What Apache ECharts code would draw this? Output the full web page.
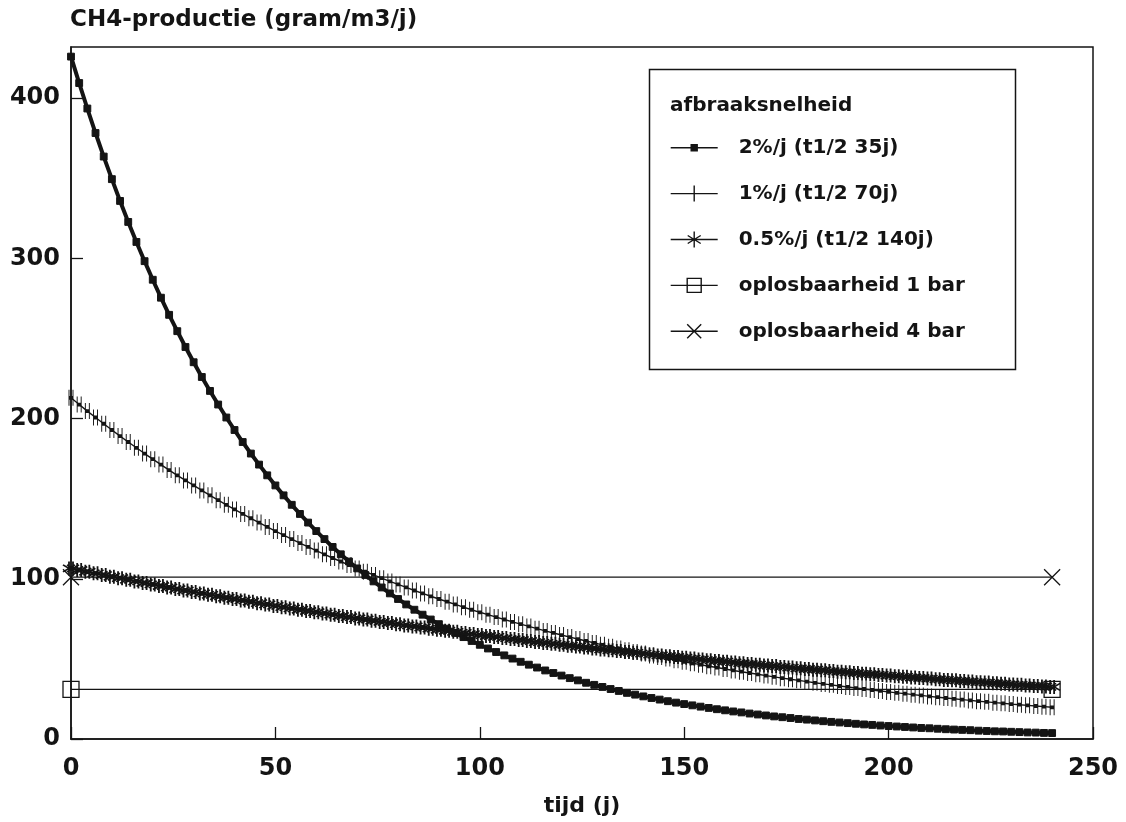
<!DOCTYPE html>
<html lang="nl">
<head>
    <meta charset="UTF-8">
    <title>CH4-productie</title>
    <style>
        html, body { margin: 0; padding: 0; background: #fff; }
    </style>
</head>
<body>
<div id="chart-box" style="width:1126px;height:822px"></div>
<script src="https://cdn.jsdelivr.net/npm/echarts@6/dist/echarts.min.js"></script>
<script>
var tijd = [0,2,4,6,8,10,12,14,16,18,20,22,24,26,28,30,32,34,36,38,40,42,44,46,48,50,52,54,56,58,
    60,62,64,66,68,70,72,74,76,78,80,82,84,86,88,90,92,94,96,98,100,102,104,106,108,110,112,114,116,118,
    120,122,124,126,128,130,132,134,136,138,140,142,144,146,148,150,152,154,156,158,160,162,164,166,168,170,172,174,176,178,
    180,182,184,186,188,190,192,194,196,198,200,202,204,206,208,210,212,214,216,218,220,222,224,226,228,230,232,234,236,238,240];

// CH4-productie (gram/m3/j)
var afbraak2 = [426,409.5,393.6,378.3,363.6,349.5,335.9,322.8,310.3,298.3,286.7,275.5,264.8,254.6,244.7,235.2,226.0,217.3,
    208.8,200.7,192.9,185.4,178.2,171.3,164.6,158.3,152.1,146.2,140.5,135.1,129.8,124.8,119.9,115.3,110.8,
    106.5,102.4,98.4,94.6,90.9,87.4,84.0,80.7,77.6,74.6,71.7,68.9,66.2,63.6,61.2,58.8,56.5,54.3,
    52.2,50.2,48.2,46.4,44.6,42.8,41.2,39.6,38.0,36.6,35.1,33.8,32.5,31.2,30.0,28.8,27.7,
    26.6,25.6,24.6,23.6,22.7,21.8,21.0,20.2,19.4,18.6,17.9,17.2,16.6,15.9,15.3,14.7,14.1,13.6,
    13.1,12.5,12.1,11.6,11.1,10.7,10.3,9.9,9.5,9.1,8.8,8.4,8.1,7.8,7.5,7.2,6.9,
    6.7,6.4,6.1,5.9,5.7,5.5,5.2,5.0,4.8,4.7,4.5,4.3,4.1,4.0,3.8,3.7];
var afbraak1 = [213,208.8,204.7,200.7,196.8,192.9,189.1,185.4,181.8,178.2,174.7,171.3,167.9,164.6,161.4,158.3,155.2,152.1,
    149.1,146.2,143.3,140.5,137.8,135.1,132.4,129.8,127.3,124.8,122.3,119.9,117.6,115.3,113.0,110.8,108.6,
    106.5,104.4,102.4,100.4,98.4,96.5,94.6,92.7,90.9,89.1,87.4,85.7,84.0,82.3,80.7,79.1,77.6,76.1,74.6,73.1,
    71.7,70.3,68.9,67.5,66.2,64.9,63.6,62.4,61.2,60.0,58.8,57.6,56.5,55.4,54.3,
    53.3,52.2,51.2,50.2,49.2,48.2,47.3,46.4,45.4,44.6,43.7,42.8,42.0,41.2,40.4,39.6,38.8,38.0,37.3,36.6,
    35.8,35.1,34.4,33.8,33.1,32.5,31.8,31.2,30.6,30.0,29.4,28.8,28.3,27.7,27.2,
    26.6,26.1,25.6,25.1,24.6,24.1,23.6,23.2,22.7,22.3,21.8,21.4,21.0,20.6,20.2,19.8];
var afbraak05 = [106.5,105.5,104.4,103.4,102.4,101.3,100.4,99.4,98.4,97.4,96.5,95.5,94.6,93.6,92.7,91.8,90.9,90.0,89.1,88.2,
    87.4,86.5,85.7,84.8,84.0,83.1,82.3,81.5,80.7,79.9,79.2,78.4,77.6,76.8,76.1,75.3,74.6,73.8,73.1,72.4,
    71.7,70.9,70.3,69.6,68.9,68.2,67.6,66.9,66.2,65.5,64.9,64.3,63.7,63.0,62.4,61.8,61.2,60.5,60.0,59.4,
    58.8,58.2,57.7,57.1,56.5,55.9,55.4,54.9,54.3,53.8,53.3,52.7,52.2,51.7,51.2,50.7,50.2,49.7,49.2,48.7,
    48.3,47.8,47.3,46.8,46.4,45.9,45.5,45.0,44.6,44.1,43.7,43.3,42.9,42.4,42.0,41.6,41.2,40.7,40.4,40.0,
    39.6,39.2,38.8,38.4,38.1,37.7,37.3,36.9,36.6,36.2,35.9,35.5,35.2,34.8,34.5,34.1,33.8,33.4,33.1,32.8,32.5];

// oplosbaarheid: alleen begin- en eindpunt
var tijdOplos = [0, 240];
var oplos1bar = [31, 31];
var oplos4bar = [101, 101];

var namen = ['2%/j (t1/2 35j)', '1%/j (t1/2 70j)', '0.5%/j (t1/2 140j)', 'oplosbaarheid 1 bar', 'oplosbaarheid 4 bar'];
var xTicks = [0, 50, 100, 150, 200, 250];
var yTicks = [0, 100, 200, 300, 400];

var ink = '#141414';
var leeg = 'rgba(0,0,0,0)';
var font = 'DejaVu Sans';

function paren(xs, ys) {
    return xs.map(function (x, i) { return [x, ys[i]]; });
}

// symbolen op de lijnen; de plotter zette ze dicht op elkaar,
// daarom een dubbel merkteken per punt.
// (losse M-punten rekken het kader op zodat het blokje klein blijft)
var symBlok = 'path://M0,0M10,10M3.1,3.1L6.9,3.1L6.9,6.9L3.1,6.9Z';
var symPlus2 = 'path://M0,0L0,10M10,0L10,10M0,5L10,5';
var symSter2 = 'path://M6,0L6,14M0,3.5L12,10.5M12,3.5L0,10.5M10,0L10,14M4,3.5L16,10.5M16,3.5L4,10.5';
var symVierkant = 'path://M0,0L10,0L10,10L0,10Z';
var symKruis = 'path://M0,0L10,10M10,0L0,10';

// legendasymbolen: lijnstuk met teken in het midden
var legendaIcoon = [
    'path://M0,0M47,20M0,10L47,10M20.5,7L26.5,7L26.5,13L20.5,13Z',
    'path://M0,0M47,20M0,10L47,10M23.5,2L23.5,18',
    'path://M0,0M47,20M0,10L47,10M23.5,2L23.5,18M17,6L30,14M30,6L17,14',
    'path://M0,0M47,20M0,10L47,10M16.5,3L30.5,3L30.5,17L16.5,17Z',
    'path://M0,0M47,20M0,10L47,10M16.5,3L30.5,17M30.5,3L16.5,17'
];

var option = {
    animation: false,
    backgroundColor: '#fff',
    title: {
        text: 'CH4-productie (gram/m3/j)',
        left: 70,
        top: 9,
        padding: 0,
        textStyle: { fontFamily: font, fontSize: 23, fontWeight: 'bold', color: ink }
    },
    legend: {
        orient: 'vertical',
        left: 670,
        top: 137,
        itemWidth: 47,
        itemHeight: 20,
        itemGap: 24.5,
        padding: 0,
        textStyle: { fontFamily: font, fontSize: 20, fontWeight: 'bold', color: ink, padding: [0, 0, 0, 16] },
        data: namen.map(function (n, i) {
            return {
                name: n,
                icon: legendaIcoon[i],
                itemStyle: { color: i === 0 ? ink : leeg, borderColor: ink, borderWidth: 1.4 }
            };
        })
    },
    graphic: [
        { type: 'rect', left: 647, top: 67, shape: { width: 366, height: 300 },
          style: { fill: 'none', stroke: ink, lineWidth: 1.5 }, silent: true },
        { type: 'text', left: 670, top: 96,
          style: { text: 'afbraaksnelheid', fontFamily: font, fontSize: 20, fontWeight: 'bold', fill: ink }, silent: true }
    ],
    grid: {
        left: 71, right: 33, top: 47, bottom: 81,
        show: true, borderColor: ink, borderWidth: 1.5, backgroundColor: 'transparent'
    },
    xAxis: {
        type: 'value',
        min: xTicks[0], max: xTicks[xTicks.length - 1], interval: 50,
        name: 'tijd (j)',
        nameLocation: 'middle',
        nameGap: 56,
        nameTextStyle: { fontFamily: font, fontSize: 22, fontWeight: 'bold', color: ink },
        splitLine: { show: false },
        axisLine: { lineStyle: { color: ink, width: 1.5 } },
        axisTick: { inside: true, length: 12, lineStyle: { color: ink, width: 1.3 } },
        axisLabel: { fontFamily: font, fontSize: 24, fontWeight: 'bold', color: ink, margin: 18 }
    },
    yAxis: {
        type: 'value',
        min: yTicks[0], max: 432, interval: 100,
        splitLine: { show: false },
        axisLine: { show: true, lineStyle: { color: ink, width: 1.5 } },
        axisTick: { show: true, inside: true, length: 12, lineStyle: { color: ink, width: 1.3 } },
        axisLabel: {
            fontFamily: font, fontSize: 24, fontWeight: 'bold', color: ink, margin: 11,
            showMaxLabel: false,
            formatter: function (v) { return yTicks.indexOf(v) >= 0 ? String(v) : ''; }
        }
    },
    series: [
        {
            name: namen[0], type: 'line', data: paren(tijd, afbraak2),
            symbol: symBlok, symbolSize: 18,
            lineStyle: { color: ink, width: 4 },
            itemStyle: { color: ink, borderColor: ink, borderWidth: 1 }
        },
        {
            name: namen[1], type: 'line', data: paren(tijd, afbraak1),
            symbol: symPlus2, symbolSize: [4, 16],
            lineStyle: { color: ink, width: 1.4 },
            itemStyle: { color: ink, borderColor: ink, borderWidth: 1.9 }
        },
        {
            name: namen[2], type: 'line', data: paren(tijd, afbraak05),
            symbol: symSter2, symbolSize: [16, 14],
            lineStyle: { color: ink, width: 1.4 },
            itemStyle: { color: ink, borderColor: ink, borderWidth: 1.7 }
        },
        {
            name: namen[3], type: 'line', data: paren(tijdOplos, oplos1bar),
            symbol: symVierkant, symbolSize: 16,
            lineStyle: { color: ink, width: 1.2 },
            itemStyle: { color: leeg, borderColor: ink, borderWidth: 1.3 }
        },
        {
            name: namen[4], type: 'line', data: paren(tijdOplos, oplos4bar),
            symbol: symKruis, symbolSize: 16,
            lineStyle: { color: ink, width: 1.2 },
            itemStyle: { color: leeg, borderColor: ink, borderWidth: 1.3 }
        }
    ]
};

var chCharts = echarts.init(document.getElementById('chart-box'));
chCharts.setOption(option);
</script>
</body>
</html>
